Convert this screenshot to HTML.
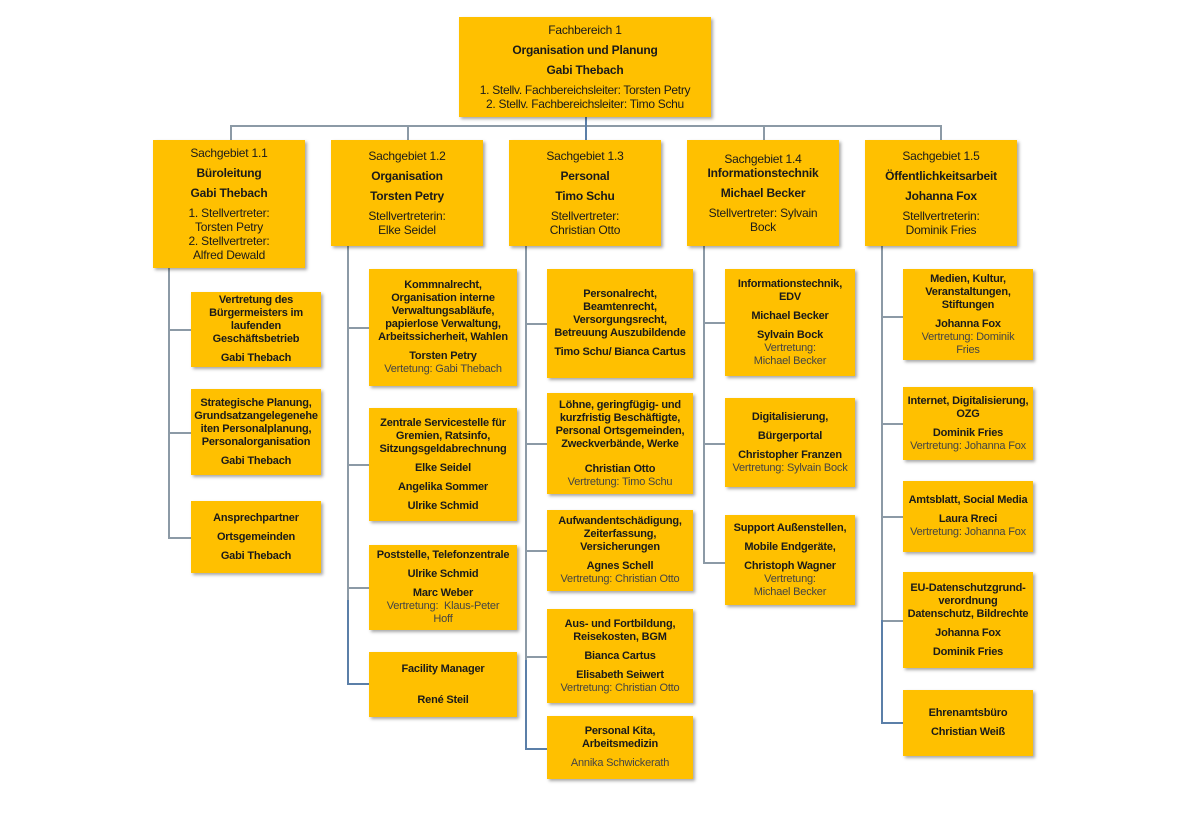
<!DOCTYPE html>
<html><head><meta charset="utf-8">
<style>
body{margin:0;width:1180px;height:835px;background:#fff;position:relative;overflow:hidden;font-family:"Liberation Sans",sans-serif;color:#1a1a1a}
.b{position:absolute;background:#FFC000;box-shadow:2px 2px 3px rgba(0,0,0,0.35);display:flex;flex-direction:column;justify-content:center;align-items:center;text-align:center;font-size:11px;line-height:13px;box-sizing:border-box;padding:2px 1px;letter-spacing:-0.2px}
.b p{margin:0}
.b p+p{margin-top:6px}
.k{font-weight:bold}
.v{color:#444}
.h{position:absolute;background:#8c9aa6;height:1.5px}
.l{position:absolute;background:#8c9aa6;width:1.5px}
</style></head><body>
<!-- lines -->
<div class="h" style="left:230px;top:125px;width:711px"></div>
<div class="l" style="left:585px;top:117px;height:23px;background:#5b7fa8"></div>
<div class="l" style="left:230px;top:125px;height:15px"></div>
<div class="l" style="left:407px;top:125px;height:15px"></div>
<div class="l" style="left:763px;top:125px;height:15px"></div>
<div class="l" style="left:940px;top:125px;height:15px"></div>

<div class="l" style="left:168px;top:268px;height:269px"></div>
<div class="h" style="left:168px;top:329px;width:23px"></div>
<div class="h" style="left:168px;top:432px;width:23px"></div>
<div class="h" style="left:168px;top:537px;width:23px"></div>

<div class="l" style="left:347px;top:246px;height:437px"></div>
<div class="h" style="left:347px;top:327px;width:22px"></div>
<div class="h" style="left:347px;top:464px;width:22px"></div>
<div class="h" style="left:347px;top:587px;width:22px"></div>
<div class="l" style="left:347px;top:600px;height:83px;background:#5b7fa8"></div>
<div class="h" style="left:347px;top:683px;width:22px;background:#5b7fa8"></div>

<div class="l" style="left:525px;top:246px;height:502px"></div>
<div class="h" style="left:525px;top:323px;width:22px"></div>
<div class="h" style="left:525px;top:443px;width:22px"></div>
<div class="h" style="left:525px;top:550px;width:22px"></div>
<div class="h" style="left:525px;top:656px;width:22px"></div>
<div class="l" style="left:525px;top:660px;height:88px;background:#5b7fa8"></div>
<div class="h" style="left:525px;top:748px;width:22px;background:#5b7fa8"></div>

<div class="l" style="left:703px;top:246px;height:316px"></div>
<div class="h" style="left:703px;top:322px;width:22px"></div>
<div class="h" style="left:703px;top:443px;width:22px"></div>
<div class="h" style="left:703px;top:562px;width:22px"></div>

<div class="l" style="left:881px;top:246px;height:476px"></div>
<div class="h" style="left:881px;top:316px;width:22px"></div>
<div class="h" style="left:881px;top:423px;width:22px"></div>
<div class="h" style="left:881px;top:516px;width:22px"></div>
<div class="h" style="left:881px;top:620px;width:22px"></div>
<div class="l" style="left:881px;top:620px;height:102px;background:#5b7fa8"></div>
<div class="h" style="left:881px;top:722px;width:22px;background:#5b7fa8"></div>

<!-- top -->
<div class="b" style="left:459px;top:17px;width:252px;height:100px;font-size:12px;line-height:14px"><p>Fachbereich 1</p><p class="k">Organisation und Planung</p><p class="k" style="font-weight:bold">Gabi Thebach</p><p style="letter-spacing:-0.3px">1. Stellv. Fachbereichsleiter: Torsten Petry<br>2. Stellv. Fachbereichsleiter: Timo Schu</p></div>

<!-- level 1 -->
<div class="b" style="left:153px;top:140px;width:152px;height:128px;font-size:12px;line-height:14px"><p>Sachgebiet 1.1</p><p class="k">Büroleitung</p><p class="k">Gabi Thebach</p><p>1. Stellvertreter:<br>Torsten Petry<br>2. Stellvertreter:<br>Alfred Dewald</p></div>
<div class="b" style="left:331px;top:140px;width:152px;height:106px;font-size:12px;line-height:14px"><p>Sachgebiet 1.2</p><p class="k">Organisation</p><p class="k">Torsten Petry</p><p>Stellvertreterin:<br>Elke Seidel</p></div>
<div class="b" style="left:509px;top:140px;width:152px;height:106px;font-size:12px;line-height:14px"><p>Sachgebiet 1.3</p><p class="k">Personal</p><p class="k">Timo Schu</p><p>Stellvertreter:<br>Christian Otto</p></div>
<div class="b" style="left:687px;top:140px;width:152px;height:106px;font-size:12px;line-height:14px"><p>Sachgebiet 1.4<br><b>Informationstechnik</b></p><p class="k">Michael Becker</p><p>Stellvertreter: Sylvain<br>Bock</p></div>
<div class="b" style="left:865px;top:140px;width:152px;height:106px;font-size:12px;line-height:14px"><p>Sachgebiet 1.5</p><p class="k">Öffentlichkeitsarbeit</p><p class="k">Johanna Fox</p><p>Stellvertreterin:<br>Dominik Fries</p></div>

<!-- col 1 -->
<div class="b" style="left:191px;top:292px;width:130px;height:75px"><p class="k">Vertretung des<br>Bürgermeisters im<br>laufenden<br>Geschäftsbetrieb</p><p class="k">Gabi Thebach</p></div>
<div class="b" style="left:191px;top:389px;width:130px;height:86px"><p class="k">Strategische Planung,<br>Grundsatzangelegenehe<br>iten Personalplanung,<br>Personalorganisation</p><p class="k">Gabi Thebach</p></div>
<div class="b" style="left:191px;top:501px;width:130px;height:72px"><p class="k">Ansprechpartner</p><p class="k">Ortsgemeinden</p><p class="k">Gabi Thebach</p></div>

<!-- col 2 -->
<div class="b" style="left:369px;top:269px;width:148px;height:117px"><p class="k">Kommnalrecht,<br>Organisation interne<br>Verwaltungsabläufe,<br>papierlose Verwaltung,<br>Arbeitssicherheit, Wahlen</p><p><b>Torsten Petry</b><br><span class="v">Vertetung: Gabi Thebach</span></p></div>
<div class="b" style="left:369px;top:408px;width:148px;height:113px"><p class="k">Zentrale Servicestelle für<br>Gremien, Ratsinfo,<br>Sitzungsgeldabrechnung</p><p class="k">Elke Seidel</p><p class="k">Angelika Sommer</p><p class="k">Ulrike Schmid</p></div>
<div class="b" style="left:369px;top:545px;width:148px;height:85px"><p class="k">Poststelle, Telefonzentrale</p><p class="k">Ulrike Schmid</p><p><b>Marc Weber</b><br><span class="v">Vertretung:&nbsp; Klaus-Peter<br>Hoff</span></p></div>
<div class="b" style="left:369px;top:652px;width:148px;height:65px"><p class="k">Facility Manager</p><p class="k" style="margin-top:18px">René Steil</p></div>

<!-- col 3 -->
<div class="b" style="left:547px;top:269px;width:146px;height:109px"><p class="k">Personalrecht,<br>Beamtenrecht,<br>Versorgungsrecht,<br>Betreuung Auszubildende</p><p class="k">Timo Schu/ Bianca Cartus</p></div>
<div class="b" style="left:547px;top:393px;width:146px;height:101px"><p class="k">Löhne, geringfügig- und<br>kurzfristig Beschäftigte,<br>Personal Ortsgemeinden,<br>Zweckverbände, Werke</p><p style="margin-top:12px"><b>Christian Otto</b><br><span class="v">Vertretung: Timo Schu</span></p></div>
<div class="b" style="left:547px;top:510px;width:146px;height:81px"><p class="k">Aufwandentschädigung,<br>Zeiterfassung,<br>Versicherungen</p><p><b>Agnes Schell</b><br><span class="v">Vertretung: Christian Otto</span></p></div>
<div class="b" style="left:547px;top:609px;width:146px;height:94px"><p class="k">Aus- und Fortbildung,<br>Reisekosten, BGM</p><p class="k">Bianca Cartus</p><p><b>Elisabeth Seiwert</b><br><span class="v">Vertretung: Christian Otto</span></p></div>
<div class="b" style="left:547px;top:716px;width:146px;height:63px"><p class="k">Personal Kita,<br>Arbeitsmedizin</p><p class="v">Annika Schwickerath</p></div>

<!-- col 4 -->
<div class="b" style="left:725px;top:269px;width:130px;height:107px"><p class="k">Informationstechnik,<br>EDV</p><p class="k">Michael Becker</p><p><b>Sylvain Bock</b><br><span class="v">Vertretung:<br>Michael Becker</span></p></div>
<div class="b" style="left:725px;top:398px;width:130px;height:89px"><p class="k">Digitalisierung,</p><p class="k">Bürgerportal</p><p><b>Christopher Franzen</b><br><span class="v">Vertretung: Sylvain Bock</span></p></div>
<div class="b" style="left:725px;top:515px;width:130px;height:90px"><p class="k">Support Außenstellen,</p><p class="k">Mobile Endgeräte,</p><p><b>Christoph Wagner</b><br><span class="v">Vertretung:<br>Michael Becker</span></p></div>

<!-- col 5 -->
<div class="b" style="left:903px;top:269px;width:130px;height:91px"><p class="k">Medien, Kultur,<br>Veranstaltungen,<br>Stiftungen</p><p><b>Johanna Fox</b><br><span class="v">Vertretung: Dominik<br>Fries</span></p></div>
<div class="b" style="left:903px;top:387px;width:130px;height:73px"><p class="k">Internet, Digitalisierung,<br>OZG</p><p><b>Dominik Fries</b><br><span class="v">Vertretung: Johanna Fox</span></p></div>
<div class="b" style="left:903px;top:481px;width:130px;height:71px"><p class="k">Amtsblatt, Social Media</p><p><b>Laura Rreci</b><br><span class="v">Vertretung: Johanna Fox</span></p></div>
<div class="b" style="left:903px;top:572px;width:130px;height:96px"><p class="k">EU-Datenschutzgrund-<br>verordnung<br>Datenschutz, Bildrechte</p><p class="k">Johanna Fox</p><p class="k">Dominik Fries</p></div>
<div class="b" style="left:903px;top:690px;width:130px;height:66px"><p class="k">Ehrenamtsbüro</p><p class="k">Christian Weiß</p></div>
</body></html>
